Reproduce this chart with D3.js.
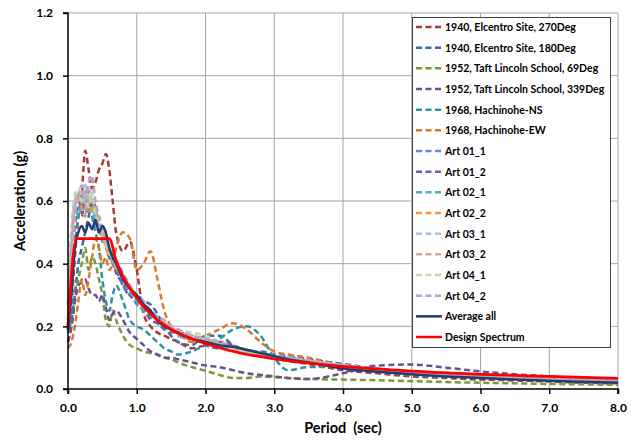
<!DOCTYPE html>
<html><head><meta charset="utf-8">
<script src="https://cdn.jsdelivr.net/npm/d3@7"></script>
<style>body{margin:0;background:#fff}svg{display:block}text{font-family:Lato,"Liberation Sans",sans-serif;font-weight:700;fill:#000}</style>
</head><body><svg id="c" width="639" height="441"></svg>
<script>
const periods = [0,0.05,0.1,0.15,0.2,0.25,0.3,0.35,0.4,0.45,0.5,0.55,0.6,0.65,0.7,0.8,0.9,1.0,1.1,1.2,1.3,1.4,1.5,1.6,1.8,2.0,2.2,2.4,2.6,2.8,3.0,3.2,3.5,4.0,4.5,5.0,5.5,6.0,6.5,7.0,7.5,8.0];
const seriesNames = ["1940, Elcentro Site, 270Deg","1940, Elcentro Site, 180Deg","1952, Taft Lincoln School, 69Deg","1952, Taft Lincoln School, 339Deg","1968, Hachinohe-NS","1968, Hachinohe-EW","Art 01_1","Art 01_2","Art 02_1","Art 02_2","Art 03_1","Art 03_2","Art 04_1","Art 04_2"];
const elcentro270 = [0.21,0.30,0.42,0.55,0.62,0.76,0.70,0.64,0.66,0.70,0.72,0.75,0.70,0.60,0.50,0.44,0.47,0.38,0.24,0.20,0.18,0.17,0.16,0.15,0.13,0.14,0.15,0.14,0.12,0.11,0.10,0.09,0.08,0.06,0.05,0.04,0.035,0.03,0.027,0.024,0.02,0.018];
const elcentro180 = [0.19,0.22,0.30,0.40,0.45,0.50,0.55,0.60,0.58,0.50,0.52,0.48,0.42,0.40,0.38,0.33,0.30,0.30,0.28,0.27,0.24,0.20,0.17,0.15,0.14,0.17,0.17,0.14,0.12,0.12,0.11,0.105,0.095,0.08,0.065,0.055,0.05,0.045,0.04,0.035,0.032,0.03];
const taft69 = [0.15,0.20,0.28,0.35,0.40,0.45,0.38,0.42,0.40,0.35,0.30,0.22,0.20,0.25,0.22,0.17,0.14,0.13,0.12,0.115,0.11,0.10,0.095,0.085,0.07,0.058,0.045,0.035,0.035,0.04,0.038,0.035,0.032,0.03,0.028,0.025,0.022,0.02,0.018,0.016,0.015,0.013];
const taft339 = [0.15,0.20,0.28,0.33,0.34,0.35,0.32,0.30,0.30,0.28,0.30,0.26,0.22,0.24,0.25,0.22,0.18,0.16,0.14,0.12,0.11,0.10,0.10,0.095,0.085,0.075,0.07,0.06,0.05,0.045,0.04,0.035,0.032,0.05,0.075,0.078,0.068,0.056,0.047,0.04,0.03,0.025];
const hachinoheNS = [0.18,0.25,0.45,0.55,0.60,0.58,0.63,0.55,0.50,0.45,0.35,0.28,0.25,0.30,0.33,0.28,0.22,0.20,0.19,0.17,0.15,0.13,0.12,0.11,0.12,0.14,0.16,0.19,0.20,0.17,0.10,0.06,0.07,0.07,0.055,0.045,0.04,0.035,0.03,0.028,0.025,0.022];
const hachinoheEW = [0.13,0.15,0.20,0.28,0.35,0.30,0.35,0.42,0.48,0.45,0.40,0.42,0.38,0.40,0.45,0.50,0.48,0.38,0.40,0.44,0.35,0.25,0.20,0.18,0.15,0.17,0.19,0.21,0.19,0.15,0.12,0.11,0.10,0.075,0.06,0.05,0.045,0.04,0.036,0.032,0.03,0.028];
const art01_1 = [0.20,0.38,0.55,0.58,0.62,0.56,0.60,0.57,0.52,0.55,0.50,0.46,0.44,0.40,0.38,0.33,0.30,0.27,0.25,0.23,0.21,0.20,0.19,0.18,0.16,0.15,0.14,0.12,0.12,0.11,0.10,0.10,0.09,0.075,0.062,0.052,0.046,0.041,0.037,0.033,0.030,0.028];
const art01_2 = [0.20,0.40,0.52,0.60,0.55,0.62,0.57,0.60,0.55,0.50,0.52,0.47,0.42,0.41,0.37,0.34,0.30,0.28,0.26,0.22,0.21,0.19,0.18,0.18,0.17,0.14,0.13,0.13,0.115,0.105,0.10,0.092,0.085,0.072,0.060,0.050,0.045,0.040,0.036,0.032,0.029,0.027];
const art02_1 = [0.20,0.42,0.58,0.55,0.60,0.63,0.56,0.58,0.54,0.52,0.47,0.48,0.44,0.40,0.39,0.35,0.31,0.28,0.25,0.24,0.22,0.20,0.19,0.17,0.16,0.16,0.14,0.125,0.115,0.11,0.10,0.095,0.088,0.073,0.061,0.051,0.045,0.040,0.036,0.032,0.029,0.027];
const art02_2 = [0.20,0.40,0.55,0.62,0.58,0.55,0.62,0.56,0.58,0.50,0.49,0.45,0.43,0.42,0.38,0.36,0.32,0.29,0.26,0.24,0.22,0.21,0.19,0.18,0.17,0.15,0.15,0.13,0.12,0.11,0.105,0.098,0.09,0.075,0.062,0.052,0.046,0.041,0.037,0.033,0.030,0.028];
const art03_1 = [0.27,0.50,0.60,0.62,0.60,0.65,0.60,0.62,0.56,0.53,0.50,0.47,0.44,0.42,0.40,0.36,0.32,0.30,0.27,0.25,0.23,0.21,0.20,0.19,0.17,0.16,0.15,0.135,0.125,0.115,0.105,0.10,0.09,0.076,0.063,0.053,0.047,0.042,0.038,0.034,0.031,0.029];
const art03_2 = [0.20,0.45,0.56,0.60,0.63,0.58,0.64,0.60,0.57,0.52,0.52,0.46,0.45,0.41,0.39,0.35,0.33,0.29,0.27,0.24,0.22,0.21,0.20,0.18,0.17,0.16,0.145,0.13,0.12,0.11,0.10,0.097,0.089,0.074,0.062,0.052,0.046,0.041,0.037,0.033,0.030,0.028];
const art04_1 = [0.22,0.48,0.62,0.64,0.60,0.62,0.58,0.63,0.55,0.54,0.49,0.47,0.43,0.42,0.40,0.37,0.33,0.30,0.27,0.25,0.23,0.22,0.20,0.19,0.18,0.17,0.15,0.13,0.12,0.115,0.105,0.10,0.09,0.075,0.063,0.053,0.047,0.042,0.038,0.034,0.031,0.029];
const art04_2 = [0.22,0.45,0.58,0.62,0.65,0.60,0.66,0.68,0.60,0.55,0.50,0.48,0.45,0.43,0.41,0.37,0.33,0.30,0.28,0.25,0.23,0.22,0.20,0.19,0.17,0.16,0.15,0.135,0.125,0.115,0.105,0.10,0.09,0.075,0.063,0.053,0.047,0.042,0.038,0.034,0.031,0.029];
const averageAll = [0.19,0.30,0.45,0.50,0.52,0.50,0.53,0.51,0.54,0.50,0.52,0.50,0.45,0.42,0.40,0.35,0.32,0.30,0.27,0.25,0.22,0.20,0.19,0.18,0.16,0.15,0.14,0.135,0.125,0.115,0.105,0.095,0.085,0.065,0.055,0.047,0.04,0.035,0.03,0.026,0.023,0.02];
const designPeriods = [0,0.12,0.6,0.7,0.8,1.0,1.2,1.5,2.0,2.5,3.0,4.0,5.0,6.0,7.0,8.0];
const designSpectrum = [0.19,0.48,0.48,0.41,0.36,0.29,0.24,0.19,0.145,0.115,0.096,0.072,0.057,0.047,0.040,0.034];
const xTicks = [0,1,2,3,4,5,6,7,8];
const yTicks = [0,0.2,0.4,0.6,0.8,1.0,1.2];
const seriesColors = ["#a33b3b","#3b6aa6","#7a9a3a","#6b4f94","#2f8fa6","#d9782f","#5b8fd0","#7a5aa8","#4bb0c8","#f39540","#a9bfdd","#dba3a0","#c4d7a0","#b4a6c9"];

const seriesValues = [elcentro270,elcentro180,taft69,taft339,hachinoheNS,hachinoheEW,art01_1,art01_2,art02_1,art02_2,art03_1,art03_2,art04_1,art04_2];

const svg = d3.select("#c");
const L=68,R=618,T=13,B=389;
const x = d3.scaleLinear().domain([0,8]).range([L,R]);
const y = d3.scaleLinear().domain([0,1.2]).range([B,T]);

svg.append("g").selectAll("line").data(yTicks.filter(d=>d>0)).join("line")
  .attr("x1",L).attr("x2",R).attr("y1",d=>y(d)).attr("y2",d=>y(d))
  .attr("stroke","#a6a6a6").attr("stroke-width",1);
svg.append("g").selectAll("line").data(xTicks.filter(d=>d>0)).join("line")
  .attr("y1",T).attr("y2",B).attr("x1",d=>x(d)).attr("x2",d=>x(d))
  .attr("stroke","#a6a6a6").attr("stroke-width",1);

const line = d3.line().curve(d3.curveMonotoneX);
const g = svg.append("g");
seriesValues.forEach((vals,i)=>{
  g.append("path").attr("d", line(periods.map((p,j)=>[x(p),y(vals[j])])))
   .attr("fill","none").attr("stroke",seriesColors[i]).attr("stroke-width",i===10?3.2:2.5)
   .attr("stroke-dasharray","6,3.5");
});
g.append("path").attr("d", line(periods.map((p,j)=>[x(p),y(averageAll[j])])))
  .attr("fill","none").attr("stroke","#1f3f73").attr("stroke-width",2.5);
g.append("path").attr("d", line(designPeriods.map((p,j)=>[x(p),y(designSpectrum[j])])))
  .attr("fill","none").attr("stroke","#ff0000").attr("stroke-width",2.75);

const xa = svg.append("g").attr("transform",`translate(0,${B})`)
  .call(d3.axisBottom(x).tickValues(xTicks).tickFormat(d3.format(".1f")).tickSize(5).tickPadding(9));
const ya = svg.append("g").attr("transform",`translate(${L},0)`)
  .call(d3.axisLeft(y).tickValues(yTicks).tickFormat(d3.format(".1f")).tickSize(5).tickPadding(10));
[xa,ya].forEach(a=>{
  a.select(".domain").attr("stroke","#000").attr("stroke-width",1.5);
  a.selectAll(".tick line").attr("stroke","#000").attr("stroke-width",1.5);
  a.selectAll(".tick text").attr("font-size","12px").attr("font-family","Lato").attr("font-weight",700).attr("fill","#000");
});
xa.select(".domain").attr("d",`M${L},5V0H${R}V5`);
ya.select(".domain").attr("d",`M-5,${B}H0V${T}H-5`);

svg.append("text").attr("x",x(4)).attr("y",433).attr("text-anchor","middle").attr("font-size","14.5px").style("white-space","pre").text("Period  (sec)");
svg.append("text").attr("transform",`translate(25,${(T+B)/2}) rotate(-90)`).attr("text-anchor","middle").attr("font-size","14.5px").text("Acceleration (g)");

const leg = svg.append("g");
leg.append("rect").attr("x",412.5).attr("y",17.5).attr("width",198).attr("height",330).attr("fill","#fff").attr("stroke","#404040").attr("stroke-width",1);
const legItems = seriesNames.map((n,i)=>({name:n,color:seriesColors[i],dash:true}))
  .concat([{name:"Average all",color:"#1f3f73",dash:false},{name:"Design Spectrum",color:"#ff0000",dash:false}]);
const ly = d3.scaleLinear().domain([0,15]).range([27,337]);
legItems.forEach((it,i)=>{
  leg.append("line").attr("x1",416).attr("x2",442).attr("y1",ly(i)).attr("y2",ly(i))
    .attr("stroke",it.color).attr("stroke-width",2.5).attr("stroke-dasharray",it.dash?"6,3.5":null);
  leg.append("text").attr("x",445).attr("y",ly(i)+4).attr("font-size","10.5px").text(it.name);
});
</script></body></html>
